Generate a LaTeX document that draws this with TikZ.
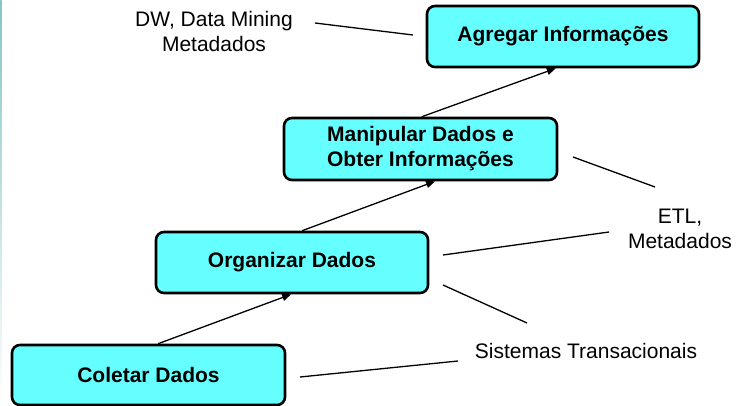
\documentclass[tikz,border=0pt]{standalone}
\usepackage{fontspec}
\setmainfont{Liberation Sans}
\usetikzlibrary{arrows.meta,calc}
\definecolor{boxcyan}{HTML}{66FFFF}
\definecolor{edgeteal}{HTML}{86C4C4}
\tikzset{
  stagebox/.style={draw=black, line width=2.6pt, fill=boxcyan, rounded corners=8pt,
    align=center, inner sep=0pt, font=\fontsize{21}{25}\selectfont\bfseries},
  note/.style={align=center, inner sep=0pt, font=\fontsize{21}{25}\selectfont},
  flow/.style={line width=1.3pt, -{Triangle[length=9pt,width=7pt]}},
  callout/.style={line width=1.3pt},
}
\begin{document}
\begin{tikzpicture}[x=1pt,y=-1pt]
\useasboundingbox (0,0) rectangle (738,406);
\shade[top color=edgeteal, bottom color=white] (0,0) rectangle (1.6,406);

\node[stagebox, minimum width=273pt, minimum height=60pt] (coletar) at (148.5,375) {Coletar Dados};
\node[stagebox, minimum width=272pt, minimum height=61pt] (organizar) at (292,262.5) {Organizar Dados};
\node[stagebox, minimum width=273pt, minimum height=62pt] (manipular) at (420.5,149) {Manipular Dados e\\Obter Informações};
\node[stagebox, minimum width=272pt, minimum height=61pt] (agregar) at (563,36.5) {Agregar Informações};

\draw[flow] ($(coletar.north west)!0.535!(coletar.north east)$) -- ($(organizar.south west)!0.497!(organizar.south east)$);
\draw[flow] ($(organizar.north west)!0.537!(organizar.north east)$) -- ($(manipular.south west)!0.553!(manipular.south east)$);
\draw[flow] ($(manipular.north west)!0.505!(manipular.north east)$) -- ($(agregar.south west)!0.474!(agregar.south east)$);

\node[note] (dw) at (214,31) {DW, Data Mining\\Metadados};
\node[note] (etl) at (680,228.5) {ETL,\\Metadados};
\node[note] (sis) at (586,351) {Sistemas Transacionais};

\coordinate (dwA) at (315,23);
\coordinate (dwB) at (413,35);
\coordinate (etlA) at (573,157);
\coordinate (etlB) at (655,187);
\coordinate (etlC) at (443,255);
\coordinate (etlD) at (609,232);
\coordinate (sisA) at (443,285);
\coordinate (sisB) at (527,323);
\coordinate (sisC) at (300,377);
\coordinate (sisD) at (458,361);

\draw[callout] (dwA) -- (dwB);
\draw[callout] (etlA) -- (etlB);
\draw[callout] (etlC) -- (etlD);
\draw[callout] (sisA) -- (sisB);
\draw[callout] (sisC) -- (sisD);
\end{tikzpicture}
\end{document}
